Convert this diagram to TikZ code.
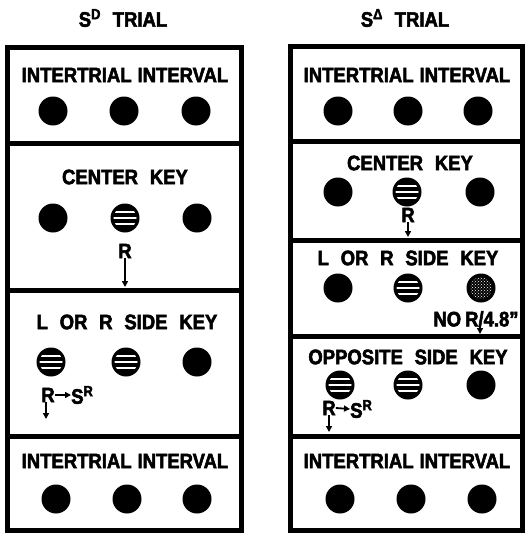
\documentclass[tikz,border=0pt]{standalone}
\usepackage{fontspec}
\setmainfont{Liberation Sans}[FakeStretch=0.88,WordSpace=2.3,BoldFeatures={FakeBold=2.5}]
\usetikzlibrary{arrows.meta,patterns,positioning}

\tikzset{
  lbl/.style={font=\fontsize{21}{21}\selectfont\bfseries,inner sep=0pt},
  key/.style={circle,fill=black,minimum size=29pt,inner sep=0pt},
  lit/.style={key,path picture={
      \clip (path picture bounding box.center) circle (11.5pt);
      \foreach \d in {-6,0,6}
        \draw[white,line width=1.8pt] ([shift={(-15pt,\d pt)}]path picture bounding box.center) -- ++(30pt,0);}},
  dim/.style={key,path picture={
      \fill[pattern=crosshatch dots,pattern color=white] (path picture bounding box.center) circle (11pt);}},
  frame/.style={line width=5pt},
  resp/.style={line width=1.8pt,-{Triangle[length=6pt,width=6pt]}}
}

\begin{document}
\begin{tikzpicture}[x=1pt,y=-1pt]
  \useasboundingbox (0,0) rectangle (526,535);

  % S^D trial
  \node[lbl] (titleD) at (123,18) {S\textsuperscript{D} TRIAL};
  \draw[frame] (7,48) rectangle (241,530);
  \draw[frame] (7,143) -- (241,143);
  \draw[frame] (7,290) -- (241,290);
  \draw[frame] (7,436) -- (241,436);

  \node[lbl] (itiA) at (125,75) {INTERTRIAL\hspace{6pt}INTERVAL};
  \foreach \x/\n in {53/l,124/c,196/r} \node[key] (itiA-\n) at (\x,111) {};

  \node[lbl] (ckA) at (125,177) {CENTER KEY};
  \node[key] (ckA-l) at (53,218) {};
  \node[lit] (ckA-c) at (125,218) {};
  \node[key] (ckA-r) at (197,218) {};
  \node[lbl] (ckA-R) at (125,251) {R};
  \coordinate (ckA-end) at (125,287);
  \draw[resp] (ckA-R.south) -- (ckA-end);

  \node[lbl] (sdA) at (127,322) {L OR R SIDE KEY};
  \node[lit] (sdA-l) at (51,362) {};
  \node[lit] (sdA-c) at (126,362) {};
  \node[key] (sdA-r) at (197,362) {};
  \node[lbl] (sdA-R) at (48,395) {R};
  \node[lbl,anchor=west] (sdA-S) at (71,395) {S\textsuperscript{R}};
  \draw[resp] (sdA-R.east) -- (sdA-S.west);
  \coordinate (sdA-end) at (46,419);
  \draw[resp] (sdA-R.south -| sdA-end) -- (sdA-end);

  \node[lbl] (itiB) at (125,461) {INTERTRIAL\hspace{6pt}INTERVAL};
  \foreach \x/\n in {56/l,127/c,197/r} \node[key] (itiB-\n) at (\x,499) {};

  % S^Delta trial
  \node[lbl] (titleT) at (405,18) {S\textsuperscript{Δ} TRIAL};
  \draw[frame] (290,47) rectangle (522,530);
  \draw[frame] (290,141) -- (522,141);
  \draw[frame] (290,240) -- (522,240);
  \draw[frame] (290,336) -- (522,336);
  \draw[frame] (290,436) -- (522,436);

  \node[lbl] (itiC) at (407,75) {INTERTRIAL\hspace{6pt}INTERVAL};
  \foreach \x/\n in {338/l,408/c,478/r} \node[key] (itiC-\n) at (\x,111) {};

  \node[lbl] (ckB) at (410,163) {CENTER KEY};
  \node[key] (ckB-l) at (338,192) {};
  \node[lit] (ckB-c) at (407,192) {};
  \node[key] (ckB-r) at (480,192) {};
  \node[lbl] (ckB-R) at (408,215) {R};
  \coordinate (ckB-end) at (408,237);
  \draw[resp] (ckB-R.south) -- (ckB-end);

  \node[lbl] (sdB) at (408,258) {L OR R SIDE KEY};
  \node[key] (sdB-l) at (338,288) {};
  \node[lit] (sdB-c) at (408,288) {};
  \node[dim] (sdB-r) at (481,288) {};
  \node[lbl] (noR) at (476,319) {NO\hspace{4pt}R/4.8''};
  \coordinate (noR-end) at (480,334);
  \draw[resp] (noR.south -| noR-end) -- (noR-end);

  \node[lbl] (opB) at (408,357) {OPPOSITE SIDE KEY};
  \node[lit] (opB-l) at (340,385) {};
  \node[lit] (opB-c) at (408,385) {};
  \node[key] (opB-r) at (481,385) {};
  \node[lbl] (opB-R) at (329,408) {R};
  \node[lbl,anchor=west] (opB-S) at (350,409) {S\textsuperscript{R}};
  \draw[resp] (opB-R.east) -- (opB-S.west);
  \coordinate (opB-end) at (329,432);
  \draw[resp] (opB-R.south) -- (opB-end);

  \node[lbl] (itiD) at (407,461) {INTERTRIAL\hspace{6pt}INTERVAL};
  \foreach \x/\n in {340/l,411/c,482/r} \node[key] (itiD-\n) at (\x,499) {};
\end{tikzpicture}
\end{document}
